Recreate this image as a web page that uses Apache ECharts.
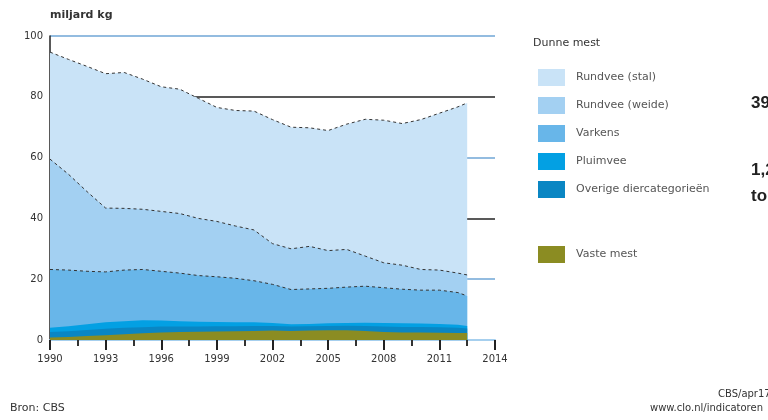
<!DOCTYPE html>
<html><head><meta charset="utf-8">
<script src="https://cdn.jsdelivr.net/npm/echarts@6/dist/echarts.min.js"></script>
<style>html,body{margin:0;padding:0;background:#fff}#c{width:768px;height:420px}</style>
</head><body><div id="c"></div>
<script>
// Years as read along the x axis (last point ends mid-way)
const years = [1990,1991,1992,1993,1994,1995,1996,1997,1998,1999,2000,2001,2002,2003,2004,2005,2006,2007,2008,2009,2010,2011,2012,2012.5];
const xTicks = [1990,1993,1996,1999,2002,2005,2008,2011,2014];
const yTicks = [0,20,40,60,80,100];
// miljard kg per category
const vasteMest  = [0.8,1.0,1.3,1.6,1.9,2.2,2.5,2.6,2.7,2.8,2.9,3.0,3.1,3.0,3.1,3.2,3.2,3.0,2.6,2.5,2.5,2.4,2.3,2.3];
const overige    = [1.8,1.9,2.0,2.1,2.1,2.0,1.9,1.8,1.7,1.7,1.6,1.6,1.5,1.4,1.4,1.4,1.5,1.6,1.8,1.8,1.8,1.8,1.7,1.5];
const pluimvee   = [1.4,1.6,1.9,2.1,2.2,2.3,2.0,1.8,1.6,1.4,1.3,1.2,1.0,0.8,0.8,0.9,0.9,1.1,1.2,1.2,1.1,1.1,1.0,0.8];
const varkens    = [19.2,18.5,17.4,16.6,16.8,16.7,16.2,15.8,15.2,14.9,14.5,13.7,12.7,11.4,11.5,11.5,11.8,12.0,11.6,11.2,11.0,11.1,10.6,9.9];
const rundWeide  = [36.3,31.5,26.2,21.0,20.3,19.8,19.7,19.6,18.8,18.2,17.2,16.7,13.4,13.4,14.0,12.4,12.4,9.9,8.2,7.9,6.8,6.6,6.4,6.9];
const rundStal   = [35.2,37.8,41.2,44.2,44.7,42.8,41.0,40.9,39.5,37.5,38.0,39.1,40.8,40.0,39.0,39.5,41.2,45.0,46.9,46.6,49.3,51.6,54.7,56.6];

const names = {
  stal: 'Rundvee (stal)', weide: 'Rundvee (weide)', varkens: 'Varkens',
  pluimvee: 'Pluimvee', overige: 'Overige diercategorieën', vaste: 'Vaste mest'
};
const colors = {
  stal:'#c9e3f7', weide:'#a3d0f2', varkens:'#68b6e9', pluimvee:'#03a0e3', overige:'#0a86c3', vaste:'#8b8c22'
};
// stacking order bottom -> top
const order = [['vaste',vasteMest,false],['overige',overige,false],['pluimvee',pluimvee,false],
               ['varkens',varkens,true],['weide',rundWeide,true],['stal',rundStal,true]];
const cum = years.map(()=>0);
const built = order.map(([key,arr,line])=>{
  const d = arr.map((v,i)=>{ cum[i] = +(cum[i]+v).toFixed(2); return [years[i], cum[i]]; });
  return {
    name: names[key], type:'line', symbol:'none', data:d, clip:true,
    itemStyle:{color:colors[key]},
    lineStyle: line ? {color:'#333', width:1, type:[3,3]} : {width:0},
    areaStyle:{color:colors[key], opacity:1, origin:0}
  };
});
// draw the tallest (top) first so lower bands paint over it
const series = built.slice().reverse();

const chart = echarts.init(document.getElementById('c'), null, {renderer:'canvas'});
chart.setOption({
  animation:false,
  grid:{left:50, right:273, top:36, bottom:80},
  xAxis:{
    type:'value', min:xTicks[0], max:xTicks[xTicks.length-1], interval:3,
    axisLine:{show:true, lineStyle:{color:'#a6cfee', width:2}},
    axisTick:{show:true, length:10, lineStyle:{color:'#222', width:2}},
    minorTick:{show:true, splitNumber:2, length:6, lineStyle:{color:'#333', width:2}},
    splitLine:{show:false},
    axisLabel:{margin:14, fontSize:10, color:'#333', fontFamily:'DejaVu Sans',
      formatter:v=> xTicks.indexOf(v)>=0 ? String(v) : ''}
  },
  yAxis:{
    type:'value', min:yTicks[0], max:yTicks[yTicks.length-1], interval:20,
    axisLine:{show:true, lineStyle:{color:'#222', width:1.5}},
    axisTick:{show:false},
    splitLine:{show:true, lineStyle:{color:['#222','#6fa6d6'], width:1.5}},
    axisLabel:{margin:7, fontSize:10, color:'#333', fontFamily:'DejaVu Sans'}
  },
  legend:[{
    left:533, top:64, orient:'vertical', itemWidth:27, itemHeight:17, itemGap:11,
    icon:'rect', selectedMode:false,
    textStyle:{fontSize:11, color:'#555', fontFamily:'DejaVu Sans', padding:[0,0,0,6]},
    data:[names.stal, names.weide, names.varkens, names.pluimvee, names.overige]
  },{
    left:533, top:241, orient:'vertical', itemWidth:27, itemHeight:17,
    icon:'rect', selectedMode:false,
    textStyle:{fontSize:11, color:'#555', fontFamily:'DejaVu Sans', padding:[0,0,0,6]},
    data:[names.vaste]
  }],
  graphic:[
    {type:'text', left:50, top:10, style:{text:'miljard kg', fontSize:11, fontWeight:'bold', fill:'#333', fontFamily:'DejaVu Sans'}},
    {type:'text', left:533, top:38, style:{text:'Dunne mest', fontSize:11, fill:'#333', fontFamily:'DejaVu Sans'}},
    {type:'text', left:751, top:95, style:{text:'39%', fontSize:17, fontWeight:'bold', fill:'#222', fontFamily:'Liberation Sans'}},
    {type:'text', left:751, top:162, style:{text:'1,2', fontSize:17, fontWeight:'bold', fill:'#222', fontFamily:'Liberation Sans'}},
    {type:'text', left:751, top:188, style:{text:'ton', fontSize:17, fontWeight:'bold', fill:'#222', fontFamily:'Liberation Sans'}},
    {type:'text', left:10, top:403, style:{text:'Bron: CBS', fontSize:11, fill:'#333', fontFamily:'DejaVu Sans'}},
    {type:'text', left:718, top:389, style:{text:'CBS/apr17', fontSize:10, fill:'#333', fontFamily:'DejaVu Sans'}},
    {type:'text', left:650, top:403, style:{text:'www.clo.nl/indicatoren', fontSize:10, fill:'#333', fontFamily:'DejaVu Sans'}}
  ],
  series: series
});
</script></body></html>
